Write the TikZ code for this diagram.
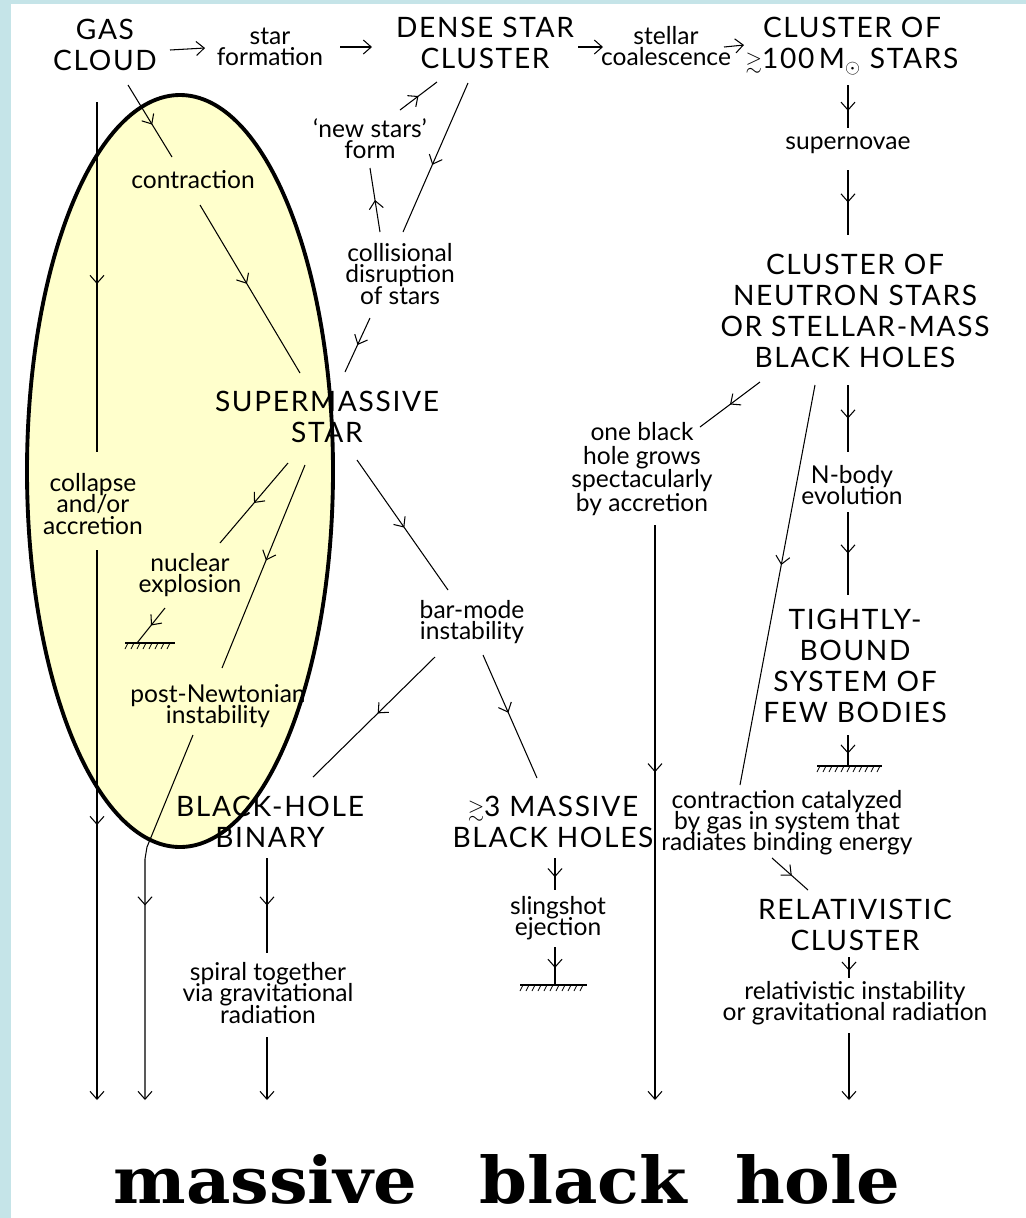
\documentclass[tikz,border=0pt]{standalone}
\usepackage{amssymb}
\usepackage{fontspec}
\setmainfont{Lato}
\newfontfamily\capsfont{Lato}[LetterSpace=6]
\newfontfamily\mbhfont{DejaVu Serif}
\usetikzlibrary{arrows.meta,calc,decorations.markings}
\definecolor{frameblue}{RGB}{197,228,232}
\definecolor{ovalyellow}{RGB}{255,255,204}
\lineskiplimit=-20pt
\newcommand{\approxge}{{\fontsize{12}{12}\selectfont$\gtrsim$}}
\tikzset{
  midarr/.style={postaction={decorate,decoration={markings,mark=at position #1 with {\arrow{Straight Barb[length=4.5pt,width=8pt]}}}}},
  midarr/.default=0.5,
  endarr/.style={-{Straight Barb[length=4.5pt,width=8pt]}},
}

\begin{document}
\begin{tikzpicture}[x=0.02cm, y=-0.02cm, line width=0.6pt,
  big/.style={font=\capsfont\fontsize{16}{17.5}\selectfont, align=center, inner sep=0pt},
  lbl/.style={font=\fontsize{14}{12}\selectfont, align=center, inner sep=0pt}]
\useasboundingbox (0,0) rectangle (1026,1218);
\fill[frameblue] (0,0) rectangle (1026,1218);
\fill[white] (11,4) rectangle (1026,1218);
\fill[ovalyellow] (180,471) ellipse (153 and 376);

% top row
\node[big] (gas) at (105,45) {GAS\\CLOUD};
\node[lbl] (starf) at (270,47) {star\\formation};
\node[big] (dense) at (485,43) {DENSE STAR\\CLUSTER};
\node[lbl] (stell) at (666,46) {stellar\\coalescence};
\node[big] (cl100) at (852,46) {CLUSTER OF\\\approxge100\,M$_\odot$ STARS};

% right column
\node[lbl] (supn) at (848,145) {supernovae};
\node[big] (clns) at (855,311) {CLUSTER OF\\NEUTRON STARS\\OR STELLAR-MASS\\BLACK HOLES};
\node[lbl, font=\fontsize{14}{13.5}\selectfont] (onebh) at (642,469) {one black\\hole grows\\spectacularly\\by accretion};
\node[lbl] (nbody) at (852,485) {N-body\\evolution};
\node[big] (tight) at (855,666) {TIGHTLY-\\BOUND\\SYSTEM OF\\FEW BODIES};
\node[lbl] (catal) at (787,823) {contraction catalyzed\\by gas in system that\\radiates binding energy};
\node[big] (relcl) at (855,925) {RELATIVISTIC\\CLUSTER};
\node[lbl] (relinst) at (855,1003) {relativistic instability\\or gravitational radiation};

% middle and left
\node[lbl] (newst) at (370,139) {`new stars'\\form};
\node[lbl] (colli) at (400,274) {collisional\\disruption\\of stars};
\node[big] (smstar) at (327,417) {SUPERMASSIVE\\STAR};
\node[lbl] (contr) at (193,180) {contraction};
\node[lbl] (collapse) at (93,504) {collapse\\and/or\\accretion};
\node[lbl] (nuc) at (190,575) {nuclear\\explosion};
\node[lbl] (postn) at (218,706) {post-Newtonian\\instability};
\node[lbl] (barm) at (472,622) {bar-mode\\instability};
\node[big] (bhbin) at (270,822) {BLACK-HOLE\\BINARY};
\node[big] (mbh3) at (553,822) {\approxge3 MASSIVE\\BLACK HOLES};
\node[lbl] (sling) at (558,918) {slingshot\\ejection};
\node[lbl] (spiral) at (268,993) {spiral together\\via gravitational\\radiation};
\node[anchor=base west, inner sep=0pt] (mbh) at (113,1203)
  {\resizebox{15.74cm}{0.98cm}{\mbhfont\bfseries massive\hspace{0.9em}black\hspace{0.7em}hole}};

\coordinate (gnd1) at (137,643);
\coordinate (gnd2) at (848,766);
\coordinate (gnd3) at (555,985);

% top row arrows
\draw[endarr] ($(gas)+(65,5)$) -- ($(starf)+(-65,1)$);
\draw[endarr] ($(starf)+(70,0)$) -- ($(dense)+(-113,4)$);
\draw[endarr] ($(dense)+(93,4)$) -- ($(stell)+(-63,1)$);
\draw[endarr] ($(stell)+(58,1)$) -- ($(cl100)+(-108,-1)$);

% right column arrows
\draw[midarr=0.6] ($(cl100)+(-4,39)$) -- ($(supn)+(0,-17)$);
\draw[midarr] ($(supn)+(0,25)$) -- ($(clns)+(-7,-76)$);
\draw[midarr] ($(clns)+(-95,71)$) -- ($(onebh)+(58,-42)$);
\draw[midarr=0.43, endarr] ($(onebh)+(13,56)$) -- ($(mbh.base west)+(542,-103)$);
\draw[midarr=0.45] ($(clns)+(-40,74)$) -- ($(catal)+(-47,-38)$);
\draw[midarr] ($(clns)+(-7,74)$) -- ($(nbody)+(-4,-33)$);
\draw[midarr=0.5] ($(nbody)+(-4,27)$) -- ($(tight)+(-7,-71)$);
\draw[midarr=0.6] ($(tight)+(-7,69)$) -- (gnd2);
\draw[midarr=0.55] ($(catal)+(-15,35)$) -- ($(relcl)+(-47,-35)$);
\draw[midarr=0.65] ($(relcl)+(-6,32)$) -- ($(relinst)+(-6,-25)$);
\draw[endarr] ($(relinst)+(-6,30)$) -- ($(mbh.base west)+(736,-103)$);

% middle arrows
\draw[midarr=0.55] ($(dense)+(-17,40)$) -- ($(colli)+(3,-42)$);
\draw[midarr] ($(colli)+(-20,-42)$) -- ($(newst)+(0,29)$);
\draw[midarr] ($(newst)+(30,-29)$) -- ($(dense)+(-48,39)$);
\draw[midarr] ($(colli)+(-30,44)$) -- ($(smstar)+(18,-45)$);
\draw[midarr=0.52] ($(smstar)+(30,43)$) -- ($(barm)+(-24,-32)$);
\draw[midarr=0.47] ($(barm)+(-37,35)$) -- ($(bhbin)+(43,-45)$);
\draw[midarr=0.47] ($(barm)+(11,33)$) -- ($(mbh3)+(-16,-44)$);
\draw[midarr] ($(bhbin)+(-3,36)$) -- ($(spiral)+(-1,-40)$);
\draw[endarr] ($(spiral)+(-1,44)$) -- ($(mbh.base west)+(154,-103)$);
\draw[midarr=0.6] ($(mbh3)+(2,36)$) -- ($(sling)+(-3,-28)$);
\draw[midarr=0.55] ($(sling)+(-3,29)$) -- (gnd3);

% left arrows
\draw[midarr=0.55] ($(gas)+(23,40)$) -- ($(contr)+(-21,-23)$);
\draw[midarr=0.47] ($(contr)+(7,25)$) -- ($(smstar)+(-27,-44)$);
\draw[midarr=0.52] ($(gas)+(-8,57)$) -- ($(collapse)+(4,-52)$);
\draw[midarr=0.5, endarr] ($(collapse)+(4,46)$) -- ($(mbh.base west)+(-16,-103)$);
\draw[midarr] ($(smstar)+(-39,46)$) -- ($(nuc)+(30,-32)$);
\draw[midarr] ($(nuc)+(-25,33)$) -- (gnd1);
\draw[midarr=0.47] ($(smstar)+(-22,48)$) -- ($(postn)+(4,-38)$);
\draw[midarr=0.48, endarr] ($(postn)+(-25,29)$) -- ++(-46,112) -- ++(-2,12) -- ($(mbh.base west)+(32,-103)$);

% ground symbols
\draw ($(gnd1)+(-12,0)$) -- ($(gnd1)+(38,0)$);
\foreach \hx in {-9,-3,...,36} \draw[line width=0.4pt] ($(gnd1)+(\hx,0)$) -- ++(-3,6);
\draw ($(gnd2)+(-31,0)$) -- ($(gnd2)+(34,0)$);
\foreach \hx in {-28,-22,...,34} \draw[line width=0.4pt] ($(gnd2)+(\hx,0)$) -- ++(-3,6);
\draw ($(gnd3)+(-35,0)$) -- ($(gnd3)+(32,0)$);
\foreach \hx in {-32,-26,...,32} \draw[line width=0.4pt] ($(gnd3)+(\hx,0)$) -- ++(-3,6);

\draw[line width=2.2pt] (180,471) ellipse (153 and 376);
\end{tikzpicture}
\end{document}
